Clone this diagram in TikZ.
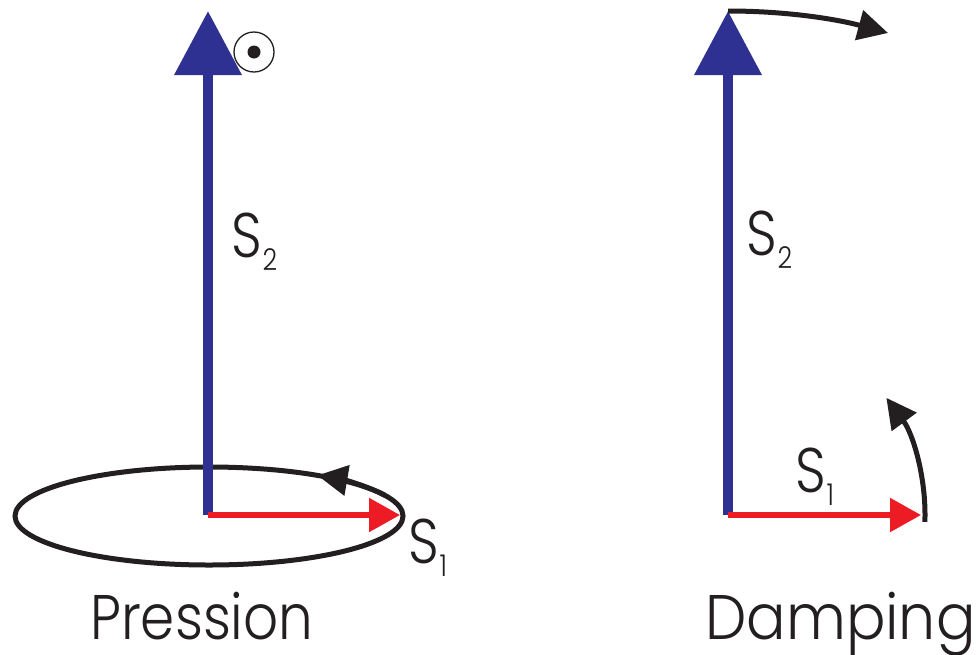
\documentclass[tikz,border=0pt]{standalone}
\usepackage{fontspec}
\setmainfont{Poppins Light}
\usetikzlibrary{arrows.meta}
\definecolor{vblue}{RGB}{46,49,146}
\definecolor{vred}{RGB}{237,28,36}
\definecolor{vblack}{RGB}{35,31,32}
\newcommand\Ssub[1]{\scalebox{0.85}[1]{S\hspace{1pt}\raisebox{-13pt}{\fontsize{30}{30}\selectfont #1}}}
\newcommand\Nar[2]{\scalebox{#1}[1]{#2}}
\begin{document}
\begin{tikzpicture}[x=1pt,y=-1pt,
  bigvec/.style={draw=vblue,line width=10.5pt,-{Triangle[length=64pt,width=65pt]},color=vblue},
  smallvec/.style={draw=vred,line width=5.5pt,-{Triangle[length=31pt,width=33pt]},color=vred},
  motion/.style={draw=vblack,line width=5pt,-{Triangle[length=30pt,width=30pt]},color=vblack},
  lbl/.style={inner sep=0pt,anchor=base west,font=\fontsize{63}{63}\selectfont,text=vblack}]
\useasboundingbox (0,0) rectangle (979,654);
% ---- left: Pression ----
\coordinate (O1) at (208,515);
\coordinate (T1) at (208,11);
\coordinate (R1) at (400,515);
\coordinate (E1) at (209,516);
\draw[draw=vblack,line width=5pt] (E1) ellipse[x radius=194,y radius=49];
\draw[motion] ([shift={(-25:194 and 49)}]E1) arc[start angle=-25,end angle=-56,x radius=194,y radius=49];
\draw[bigvec] (O1) -- (T1);
\draw[smallvec] (O1) -- (R1);
\node[circle,draw=vblack,line width=1.3pt,minimum size=40pt,inner sep=0pt] (dotc) at (254,52) {};
\fill[vblack] (dotc.center) circle[radius=6.5];
\node[lbl] (s2a) at (231,257) {\Ssub{2}};
\node[lbl] (s1a) at (408,563) {\Ssub{1}};
\node[lbl] (pr) at (90,639) {\Nar{0.87}{Pression}};
% ---- right: Damping ----
\coordinate (O2) at (728,515);
\coordinate (T2) at (728,11);
\coordinate (R2) at (921,515);
\draw[bigvec] (O2) -- (T2);
\draw[smallvec] (O2) -- (R2);
\draw[motion] (T2) .. controls (790,11) and (840,20) .. (888,33);
\draw[motion] ([shift={(2:197)}]O2) arc[start angle=2,end angle=-36.5,radius=197];
\node[lbl] (s2b) at (746,255) {\Ssub{2}};
\node[lbl] (s1b) at (795,492) {\Ssub{1}};
\node[lbl] (dm) at (705,639) {\Nar{0.93}{Damping}};
\end{tikzpicture}
\end{document}
